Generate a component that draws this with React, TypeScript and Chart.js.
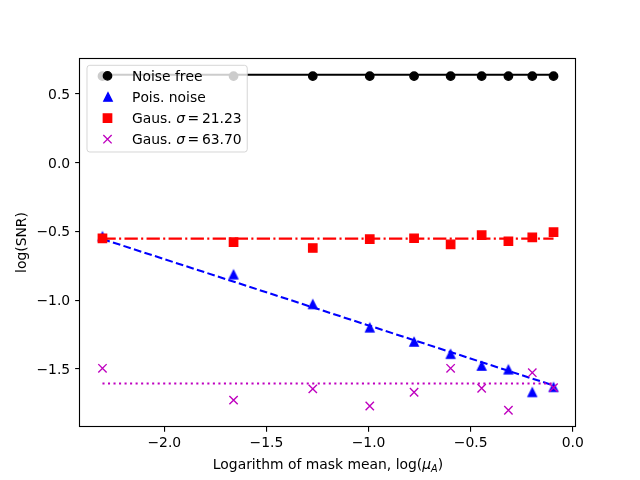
"use client"

import { useEffect, useRef } from "react"
import { Chart, registerables } from "chart.js"

Chart.register(...registerables)

// x: logarithm of the mask mean
const maskLogMean = [-2.303, -1.661, -1.273, -0.994, -0.777, -0.598, -0.446, -0.315, -0.198, -0.094]

// log(SNR) per noise case
const noiseFree = [0.63, 0.63, 0.63, 0.63, 0.63, 0.63, 0.63, 0.63, 0.63, 0.63]
const poisNoise = [-0.537, -0.814, -1.03, -1.2, -1.303, -1.392, -1.478, -1.505, -1.67, -1.633]
const gaus21 = [-0.55, -0.578, -0.62, -0.556, -0.549, -0.593, -0.527, -0.571, -0.542, -0.505]
const gaus63 = [-1.495, -1.727, -1.645, -1.769, -1.669, -1.495, -1.64, -1.8, -1.527, -1.636]

// fitted lines: value at the first and at the last x
const noiseFreeFit = [0.64, 0.64]
const poisFit = [-0.555, -1.62]
const gaus21Fit = [-0.552, -0.552]
const gaus63Fit = [-1.605, -1.605]

const seriesLabels = ["Noise free", "Pois. noise", "Gaus. σ = 21.23", "Gaus. σ = 63.70"]
const xTicks = [-2.0, -1.5, -1.0, -0.5, 0.0]
const yTicks = [-1.5, -1.0, -0.5, 0.0, 0.5]
const yTitle = "log(SNR)"
const xTitleParts = ["Logarithm of mask mean, log(", "μ", "A", ")"]

const X_MIN = -2.413
const X_MAX = 0.016
const Y_MIN = -1.922
const Y_MAX = 0.762

const FONT = "DejaVu Sans"
const FS = 13.9
const BLACK = "#000000"
const BLUE = "#0000ff"
const RED = "#ff0000"
const MAGENTA = "#bf00bf"
const markerKinds = ["circle", "triangle", "square", "x"]
const markerColors = [BLACK, BLUE, RED, MAGENTA]

const fmt = (v: number) => v.toFixed(1).replace("-", "\u2212")

function triangleMarker(color: string) {
  const c = document.createElement("canvas")
  c.width = 14
  c.height = 14
  const g = c.getContext("2d")!
  g.beginPath()
  g.moveTo(7, 7 - 4.17)
  g.lineTo(7 + 4.17, 7 + 4.17)
  g.lineTo(7 - 4.17, 7 + 4.17)
  g.closePath()
  g.fillStyle = color
  g.fill()
  g.lineWidth = 1.39
  g.lineJoin = "miter"
  g.strokeStyle = color
  g.stroke()
  return c
}

function drawMarker(ctx: CanvasRenderingContext2D, kind: string, color: string, x: number, y: number, tri: HTMLCanvasElement) {
  ctx.save()
  ctx.fillStyle = color
  ctx.strokeStyle = color
  ctx.lineWidth = 1.39
  if (kind === "circle") {
    ctx.beginPath()
    ctx.arc(x, y, 4.17, 0, Math.PI * 2)
    ctx.fill()
    ctx.stroke()
  } else if (kind === "triangle") {
    ctx.drawImage(tri, Math.round(x) - 7, Math.round(y) - 7)
  } else if (kind === "square") {
    ctx.beginPath()
    ctx.rect(x - 4.17, y - 4.17, 8.33, 8.33)
    ctx.fill()
    ctx.stroke()
  } else {
    ctx.beginPath()
    ctx.moveTo(x - 4.17, y - 4.17)
    ctx.lineTo(x + 4.17, y + 4.17)
    ctx.moveTo(x - 4.17, y + 4.17)
    ctx.lineTo(x + 4.17, y - 4.17)
    ctx.stroke()
  }
  ctx.restore()
}

// math-style label: σ in italic, tighter spaces round "="
function charAdvance(ctx: CanvasRenderingContext2D, text: string, i: number) {
  const ch = text[i]
  ctx.font = ch === "σ" ? `italic ${FS}px "${FONT}"` : `${FS}px "${FONT}"`
  const w = ctx.measureText(ch).width
  if (ch === " " && (text[i - 1] === "=" || text[i + 1] === "=")) return w * 0.6
  return w
}

function labelWidth(ctx: CanvasRenderingContext2D, text: string) {
  let w = 0
  for (let i = 0; i < text.length; i++) w += charAdvance(ctx, text, i)
  return w
}

function drawLabel(ctx: CanvasRenderingContext2D, text: string, x: number, y: number) {
  let cx = x
  for (let i = 0; i < text.length; i++) {
    const adv = charAdvance(ctx, text, i)
    ctx.fillText(text[i], cx, y)
    cx += adv
  }
}

export default function App() {
  const canvasRef = useRef<HTMLCanvasElement>(null)
  const chartRef = useRef<Chart | null>(null)

  useEffect(() => {
    document.body.style.margin = "0"
    if (!canvasRef.current) return
    if (chartRef.current) chartRef.current.destroy()
    const ctx = canvasRef.current.getContext("2d")
    if (!ctx) return

    const tri = triangleMarker(BLUE)
    const ends = [maskLogMean[0], maskLogMean[maskLogMean.length - 1]]
    const pts = (ys: number[]) => maskLogMean.map((x, i) => ({ x, y: ys[i] }))
    const fit = (ys: number[]) => ends.map((x, i) => ({ x, y: ys[i] }))
    const line = (ys: number[], color: string, dash: number[], order: number) => ({
      data: fit(ys),
      showLine: true,
      pointRadius: 0,
      pointHoverRadius: 0,
      borderColor: color,
      borderWidth: 2.08,
      borderDash: dash,
      fill: false,
      order,
    })

    const overlay = {
      id: "overlay",
      afterDraw(chart: Chart) {
        const c = chart.ctx
        const a = chart.chartArea
        c.save()
        // frame
        c.strokeStyle = BLACK
        c.lineWidth = 1.11
        c.strokeRect(Math.round(a.left) - 0.5, Math.round(a.top) + 0.5, Math.round(a.right - a.left), Math.round(a.bottom - a.top) - 1)

        // legend
        const bx = a.left + 7
        const by = a.top + 7.3
        const textX = bx + 45
        let maxW = 0
        seriesLabels.forEach((t) => { maxW = Math.max(maxW, labelWidth(c, t)) })
        const bw = textX - bx + maxW + 5.6
        const bh = 86.7
        const r = 2.8
        c.beginPath()
        c.moveTo(bx + r, by)
        c.arcTo(bx + bw, by, bx + bw, by + bh, r)
        c.arcTo(bx + bw, by + bh, bx, by + bh, r)
        c.arcTo(bx, by + bh, bx, by, r)
        c.arcTo(bx, by, bx + bw, by, r)
        c.closePath()
        c.fillStyle = "rgba(255,255,255,0.8)"
        c.fill()
        c.strokeStyle = "rgba(204,204,204,0.8)"
        c.lineWidth = 1
        c.stroke()
        c.fillStyle = BLACK
        c.textBaseline = "alphabetic"
        c.textAlign = "left"
        seriesLabels.forEach((t, i) => {
          const ry = by + 10.6 + i * 21.1
          drawMarker(c, markerKinds[i], markerColors[i], bx + 20.5, ry, tri)
          c.fillStyle = BLACK
          drawLabel(c, t, textX, ry + 5)
        })

        // x title with math part
        const normal = `${FS}px "${FONT}"`
        const ital = `italic ${FS}px "${FONT}"`
        const sub = `italic ${FS * 0.7}px "${FONT}"`
        const fonts = [normal, ital, sub, normal]
        const widths = xTitleParts.map((p, i) => { c.font = fonts[i]; return c.measureText(p).width })
        const total = widths.reduce((s, w) => s + w, 0)
        let tx = (a.left + a.right) / 2 - total / 2
        const ty = 469
        xTitleParts.forEach((p, i) => {
          c.font = fonts[i]
          c.fillText(p, tx, i === 2 ? ty + 2.6 : ty)
          tx += widths[i]
        })
        c.restore()
      },
    }

    const tickFont = { family: FONT, size: FS }

    chartRef.current = new Chart(ctx, {
      type: "scatter",
      data: {
        datasets: [
          { label: seriesLabels[0], data: pts(noiseFree), pointStyle: "circle", pointRadius: 4.17, pointHoverRadius: 4.17, backgroundColor: BLACK, borderColor: BLACK, borderWidth: 1.39, order: 8 },
          line(noiseFreeFit, BLACK, [], 7),
          { label: seriesLabels[1], data: pts(poisNoise), pointStyle: tri, pointRadius: 5, backgroundColor: BLUE, borderColor: BLUE, order: 6 },
          line(poisFit, BLUE, [7.7, 3.33], 5),
          { label: seriesLabels[2], data: pts(gaus21), pointStyle: "rect", pointRadius: 5.89, pointHoverRadius: 5.89, backgroundColor: RED, borderColor: RED, borderWidth: 1.39, order: 4 },
          line(gaus21Fit, RED, [13.3, 3.33, 2.08, 3.33], 3),
          { label: seriesLabels[3], data: pts(gaus63), pointStyle: "crossRot", pointRadius: 5.9, pointHoverRadius: 5.9, backgroundColor: MAGENTA, borderColor: MAGENTA, borderWidth: 1.39, order: 2 },
          line(gaus63Fit, MAGENTA, [2.08, 3.44], 1),
        ] as any,
      },
      options: {
        animation: false,
        responsive: false,
        events: [],
        layout: { padding: { left: 0, right: 64, top: 58, bottom: 0 } },
        plugins: { legend: { display: false }, tooltip: { enabled: false } },
        scales: {
          x: {
            type: "linear",
            min: X_MIN,
            max: X_MAX,
            afterBuildTicks: (s: any) => { s.ticks = xTicks.map((value) => ({ value })) },
            afterFit: (s: any) => { s.height = 53 },
            ticks: { callback: (v: any) => fmt(Number(v)), color: BLACK, font: tickFont, padding: 3, maxRotation: 0, autoSkip: false },
            grid: { drawOnChartArea: false, drawTicks: true, tickLength: 4.86, color: BLACK, lineWidth: 1.11 },
            border: { display: false },
          },
          y: {
            type: "linear",
            min: Y_MIN,
            max: Y_MAX,
            afterBuildTicks: (s: any) => { s.ticks = yTicks.map((value) => ({ value })) },
            afterFit: (s: any) => { s.width = 80 },
            ticks: { callback: (v: any) => fmt(Number(v)), color: BLACK, font: tickFont, padding: 5, autoSkip: false, labelOffset: 1.2 },
            grid: { drawOnChartArea: false, drawTicks: true, tickLength: 4.86, color: BLACK, lineWidth: 1.11 },
            border: { display: false },
            title: { display: true, text: yTitle, color: BLACK, font: tickFont, padding: { top: 14.5, bottom: 0 } },
          },
        },
      },
      plugins: [overlay],
    })

    return () => {
      if (chartRef.current) {
        chartRef.current.destroy()
        chartRef.current = null
      }
    }
  }, [])

  return (
    <div style={{ width: 640, height: 480, background: "#fff" }}>
      <canvas ref={canvasRef} width={640} height={480} />
    </div>
  )
}
